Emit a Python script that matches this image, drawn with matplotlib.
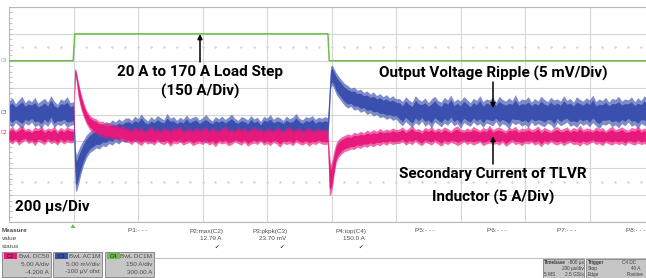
import numpy as np
import matplotlib.pyplot as plt
from matplotlib.patches import Rectangle, Polygon

# ---- scope data (time in us, trigger at 0) ----
t_pre = list(range(-200, 0, 10))
t_step = [0, 3, 6, 9, 15, 22, 31, 40]
t_mid = list(range(50, 790, 10))
t_rel = [788, 793, 797, 802, 808, 815, 822, 830, 840]
t_end = list(range(850, 1810, 10))

# C3: output voltage ripple (mV), upper / lower envelope of the noisy trace
c3_hi = ([2.6, 3.2, 2.1, 2.8, 3.5, 2.3, 2.9, 2.5, 3.3, 2.2, 2.7, 3.1, 2.4, 3.6, 2.6, 2.0, 3.0, 2.7, 3.4, 2.3]
         + [2.5, -1.0, -6.5, -7.4, -6.5, -5.6, -4.6, -3.7]
         + [-3.1, -2.6, -2.3, -1.6, -1.9, -1.2, -1.5, -0.9, -1.3, -0.7, -1.1, -0.6]
         + [-0.5, -1.0, -0.2, -0.7, 0.2, -0.6, -1.1, -0.3, -0.8, -0.1,
            -0.5, -0.9, 0.3, -0.6, -0.3, -1.0, -0.4, -0.8, 0.0, -0.7,
            -0.4, -0.2, -0.9, -0.5, 0.1, -0.6, -1.1, -0.3, -0.7, -0.2,
            -0.8, -0.4, 0.2, -0.6, -1.0, -0.3, -0.5, -0.9, -0.1, -0.7,
            -0.4, -1.2, -0.2, -0.6, 0.1, -0.8, -0.3, -0.5, -1.0, -0.2,
            -0.7, -0.4, 0.3, -0.6, -0.9, -0.3, -0.5, -0.1, -0.8, -0.4,
            -0.6, -0.3]
         + [-0.5, 5.0, 9.0, 9.3, 8.6, 7.8, 7.2, 6.6, 5.9]
         + [5.5, 5.0, 5.2, 4.6, 4.8, 4.2, 4.5, 3.9, 4.3, 3.6, 4.0, 3.4, 3.8, 3.2, 3.6, 3.0]
         + [3.1, 2.5, 3.4, 2.8, 2.4, 3.6, 2.9, 2.6, 3.2, 2.3,
            3.0, 3.5, 2.7, 2.4, 3.3, 2.8, 3.7, 2.5, 3.0, 2.6,
            3.4, 2.9, 2.3, 3.1, 2.7, 3.6, 2.5, 3.0, 2.8, 3.3,
            2.4, 3.5, 2.9, 2.6, 3.2, 2.7, 3.8, 2.5, 3.0, 2.8,
            3.4, 2.4, 3.1, 2.6, 3.5, 2.9, 2.5, 3.3, 2.8, 3.0,
            2.6, 3.6, 2.7, 3.1, 2.4, 3.4, 2.9, 2.6, 3.2, 2.8,
            3.7, 2.5, 3.0, 2.7, 3.3, 2.4, 3.1, 2.9, 3.5, 2.6,
            3.0, 2.8, 3.4, 2.5, 3.2, 2.7, 3.6, 2.9, 2.6, 3.1])
c3_lo = ([-1.7, -2.3, -1.4, -2.0, -2.6, -1.5, -1.9, -1.3, -2.2, -1.8, -2.5, -1.6, -2.1, -1.2, -2.4, -1.7, -2.0, -1.5, -2.3, -1.9]
         + [-1.8, -9.3, -13.9, -14.3, -13.0, -11.2, -9.3, -8.0]
         + [-7.0, -6.6, -6.1, -6.3, -5.7, -5.9, -5.3, -5.6, -5.0, -5.4, -4.8, -5.1]
         + [-4.7, -4.2, -5.0, -4.5, -4.0, -4.9, -4.4, -5.2, -4.3, -4.6,
            -4.9, -4.2, -4.7, -4.0, -4.8, -4.4, -5.1, -4.5, -4.1, -4.9,
            -4.6, -4.2, -4.8, -4.4, -5.3, -4.5, -4.1, -4.7, -4.3, -5.0,
            -4.6, -4.2, -4.9, -4.4, -4.0, -4.8, -4.5, -5.1, -4.3, -4.7,
            -4.2, -4.9, -4.5, -4.1, -4.8, -4.4, -5.0, -4.6, -4.2, -4.7,
            -4.3, -5.1, -4.5, -4.0, -4.8, -4.4, -4.7, -4.2, -4.9, -4.5,
            -4.6, -4.7]
         + [-4.8, -0.5, 5.0, 5.6, 4.9, 3.8, 3.2, 2.6, 1.8]
         + [1.3, 1.6, 0.9, 1.1, 0.5, 0.8, 0.1, 0.4, -0.2, 0.1, -0.5, -0.3, -0.8, -0.5, -1.0, -0.7]
         + [-1.5, -2.0, -1.2, -1.8, -2.3, -1.4, -1.9, -1.1, -2.1, -1.6,
            -2.4, -1.3, -1.7, -2.2, -1.5, -1.9, -1.2, -2.0, -1.6, -2.5,
            -1.4, -1.8, -2.1, -1.3, -1.9, -1.6, -2.3, -1.5, -1.7, -2.0,
            -1.2, -2.2, -1.6, -1.9, -2.6, -1.4, -1.8, -1.5, -2.1, -1.7,
            -2.4, -1.3, -2.0, -1.6, -1.9, -2.2, -1.5, -1.8, -2.5, -1.4,
            -2.0, -1.7, -1.3, -2.1, -1.8, -2.3, -1.5, -1.9, -1.6, -2.2,
            -1.4, -2.0, -2.6, -1.7, -1.9, -1.5, -2.2, -1.8, -2.4, -1.6,
            -2.0, -1.3, -2.1, -1.8, -2.5, -1.6, -1.9, -2.2, -1.7, -2.0])

# C2: secondary current of TLVR inductor (A)
c2_hi = ([1.5, 2.0, 1.3, 1.8, 2.2, 1.4, 1.7, 1.2, 1.9, 1.6, 2.1, 1.3, 1.7, 1.5, 2.0, 1.2, 1.8, 1.4, 1.9, 1.6]
         + [1.5, 12.5, 12.8, 12.1, 10.3, 8.4, 6.5, 5.0]
         + [4.1, 3.6, 3.4, 2.9, 3.0, 2.5, 2.7, 2.2, 2.4, 1.9, 2.2, 1.8]
         + [1.7, 1.3, 2.0, 1.5, 1.8, 1.2, 1.6, 2.1, 1.4, 1.7,
            1.1, 1.9, 1.5, 1.3, 1.8, 1.6, 2.2, 1.2, 1.5, 1.7,
            1.3, 1.9, 1.4, 1.6, 2.0, 1.2, 1.8, 1.5, 1.3, 1.7,
            2.1, 1.4, 1.6, 1.2, 1.9, 1.5, 1.8, 1.3, 1.6, 2.0,
            1.4, 1.7, 1.1, 1.8, 1.5, 1.3, 1.9, 1.6, 1.2, 1.7,
            2.0, 1.4, 1.5, 1.8, 1.2, 1.6, 1.9, 1.3, 1.5, 1.7,
            1.4, 1.5]
         + [1.4, -2.4, -5.2, -4.3, -2.4, -1.0, -0.4, 0.0, 0.3]
         + [0.6, 0.4, 0.9, 0.7, 1.1, 0.8, 1.3, 1.0, 1.4, 1.1, 1.6, 1.2, 1.5, 1.3, 1.7, 1.4]
         + [1.5, 1.9, 1.3, 1.7, 2.2, 1.4, 1.6, 1.2, 1.8, 1.5,
            2.0, 1.3, 1.7, 1.4, 1.9, 1.6, 1.2, 1.8, 2.1, 1.5,
            1.3, 1.7, 1.4, 2.0, 1.6, 1.3, 1.8, 1.5, 2.2, 1.4,
            1.7, 1.9, 1.5, 1.2, 1.8, 1.6, 2.0, 1.3, 1.7, 1.5,
            1.9, 1.4, 1.6, 2.1, 1.3, 1.8, 1.5, 1.2, 1.7, 2.0,
            1.4, 1.6, 1.9, 1.3, 1.8, 1.5, 2.2, 1.4, 1.7, 1.6,
            1.3, 1.9, 1.5, 1.8, 1.2, 1.7, 2.0, 1.4, 1.6, 1.9,
            1.5, 1.3, 1.8, 1.6, 2.1, 1.4, 1.7, 1.5, 1.9, 1.6])
c2_lo = ([-0.9, -1.3, -0.7, -1.5, -1.0, -0.6, -1.2, -0.9, -1.6, -0.8, -1.1, -1.4, -0.7, -1.2, -1.0, -1.5, -0.8, -1.3, -0.9, -1.1]
         + [-1.0, 6.9, 11.5, 10.2, 7.3, 5.4, 3.7, 2.4]
         + [1.4, 0.9, 0.6, 0.2, 0.1, -0.3, -0.1, -0.5, -0.3, -0.7, -0.5, -0.9]
         + [-1.0, -1.4, -0.8, -1.2, -1.6, -0.9, -1.3, -1.1, -1.5, -0.8,
            -1.2, -1.4, -1.0, -1.7, -1.1, -1.3, -0.9, -1.5, -1.2, -1.0,
            -1.6, -1.3, -1.1, -1.4, -0.9, -1.5, -1.2, -1.8, -1.0, -1.3,
            -1.1, -1.6, -1.4, -0.9, -1.2, -1.5, -1.0, -1.7, -1.3, -1.1,
            -1.4, -0.8, -1.5, -1.2, -1.6, -1.0, -1.3, -1.9, -1.1, -1.4,
            -1.2, -1.6, -0.9, -1.3, -1.5, -1.1, -1.7, -1.2, -1.4, -1.0,
            -1.3, -1.4]
         + [-1.3, -10.8, -10.8, -9.5, -7.1, -4.6, -3.8, -3.2, -2.7]
         + [-2.5, -2.2, -2.3, -1.9, -2.1, -1.7, -1.9, -1.5, -1.8, -1.4, -1.6, -1.2, -1.5, -1.1, -1.4, -1.2]
         + [-1.2, -0.9, -1.5, -1.1, -1.4, -0.8, -1.3, -1.6, -1.0, -1.2,
            -1.5, -0.9, -1.3, -1.7, -1.1, -1.4, -1.0, -1.2, -1.6, -1.3,
            -0.9, -1.4, -1.1, -1.5, -1.2, -1.0, -1.6, -1.3, -1.1, -1.4,
            -1.2, -1.5, -1.0, -1.7, -1.3, -0.9, -1.4, -1.2, -1.6, -1.1,
            -1.3, -1.0, -1.5, -1.2, -1.8, -1.1, -1.4, -0.9, -1.3, -1.5,
            -1.1, -1.6, -1.2, -1.0, -1.4, -1.3, -1.7, -1.1, -1.5, -1.2,
            -0.9, -1.4, -1.2, -1.6, -1.0, -1.3, -1.5, -1.1, -1.4, -1.2,
            -1.6, -1.0, -1.3, -1.5, -1.1, -1.4, -1.2, -1.7, -1.0, -1.3])

# C4: load current step (A)
c4_t = [-200, -1, 4, 789, 793, 1800]
c4_i = [0, 0, 150, 150, 0, 0]

# channel settings: screen div = (value + offset) / scale
ch = {
    'C2': dict(scale=5.0, offset=-4.2, color='#e8197d'),
    'C3': dict(scale=5.0, offset=-0.1, color='#3a4fae'),
    'C4': dict(scale=150.0, offset=300.0, color='#6cc04a'),
}

def to_div(name, v):
    c = ch[name]
    return (np.asarray(v, float) + c['offset']) / c['scale']

t_all = np.array(t_pre + t_step + t_mid + t_rel + t_end, float)

W, H = 646, 278
fig = plt.figure(figsize=(W / 100, H / 100), dpi=100)
fig.patch.set_facecolor('white')

ax = fig.add_axes([9 / W, (H - 222) / H, 645 / W, 215 / H])
ax.set_xlim(-200, 1800)
ax.set_ylim(-4, 4)

# graticule
for xv in np.arange(-200, 1801, 200):
    ax.axvline(xv, color='#d6d6d6', lw=0.8, zorder=0)
for yv in range(-4, 5):
    ax.axhline(yv, color='#d6d6d6', lw=0.8, zorder=0)
dots_x = np.arange(-200, 1800, 40)
for yv in (2.5, -2.5):
    ax.plot(dots_x, np.full_like(dots_x, yv, dtype=float), ls='none', marker='s',
            ms=0.7, color='#d2d2d2', zorder=0)
for s in ax.spines.values():
    s.set_color('#b8b8b8')
    s.set_linewidth(0.8)
ax.set_xticks([])
ax.set_yticks(np.arange(-4, 4.01, 0.2))
ax.tick_params(axis='y', direction='in', length=2, width=0.6, color='#b8b8b8',
               labelleft=False)

# traces: light fringe for the noise spikes, solid core
def band(name, hi, lo, z):
    col = ch[name]['color']
    h = to_div(name, hi)
    l = to_div(name, lo)
    ax.fill_between(t_all, l, h, color=col, alpha=0.65, lw=0, zorder=z)
    m = (h + l) / 2
    ax.fill_between(t_all, m - (m - l) * 0.65, m + (h - m) * 0.65, color=col, lw=0, zorder=z)

band('C3', c3_hi, c3_lo, 2)
band('C2', c2_hi, c2_lo, 3)
ax.plot(c4_t, to_div('C4', c4_i), color=ch['C4']['color'], lw=1.1, zorder=4)

# ---- overlay in pixel coordinates ----
ov = fig.add_axes([0, 0, 1, 1])
ov.set_xlim(0, W)
ov.set_ylim(H, 0)
ov.axis('off')
ov.patch.set_alpha(0)

bold = dict(family='Roboto', fontweight='bold', fontsize=11, color='black')
ov.text(200, 72, '20 A to 170 A Load Step', ha='center', va='center', **bold)
ov.text(200, 91, '(150 A/Div)', ha='center', va='center', **bold)
ov.text(493, 73, 'Output Voltage Ripple (5 mV/Div)', ha='center', va='center', **bold)
ov.text(493, 174, 'Secondary Current of TLVR', ha='center', va='center', **bold)
ov.text(493, 197, 'Inductor (5 A/Div)', ha='center', va='center', **bold)
ov.text(15, 207, '200 µs/Div', ha='left', va='center', **bold)

arr = dict(arrowstyle='-|>', color='black', lw=1.1, mutation_scale=7, shrinkA=0, shrinkB=0)
ov.annotate('', xy=(200, 34), xytext=(200, 62), arrowprops=arr)
ov.annotate('', xy=(493, 108), xytext=(493, 82), arrowprops=arr)
ov.annotate('', xy=(493, 136), xytext=(493, 164), arrowprops=arr)

# channel markers on the left edge
small = dict(family='DejaVu Sans', fontsize=3.6)
ov.text(1, 60, 'C4', color=ch['C4']['color'], va='center', **small)
ov.text(1, 112, 'C3', color=ch['C3']['color'], va='center', **small)
ov.text(1, 133, 'C2', color=ch['C2']['color'], va='center', **small)

# trigger marker
ov.add_patch(Polygon([[70.5, 228], [75.5, 228], [73, 224]], closed=True,
                     color=ch['C4']['color'], lw=0))

# measurement table
tiny = dict(family='Liberation Sans', fontsize=4.6, color='#4a4a4a')
ov.text(2, 231, 'Measure', ha='left', va='center', fontweight='bold', **tiny)
ov.text(2, 239, 'value', ha='left', va='center', **tiny)
ov.text(2, 247, 'status', ha='left', va='center', **tiny)
meas_names = ['P1:- - -', 'P2:max(C2)', 'P3:pkpk(C3)', 'P4:top(C4)',
              'P5:- - -', 'P6:- - -', 'P7:- - -', 'P8:- - -']
meas_vals = ['', '12.79 A', '23.70 mV', '150.0 A', '', '', '', '']
name_x = [128, 223, 288, 367, 415, 487, 557, 626]
name_ha = ['left', 'right', 'right', 'right', 'left', 'left', 'left', 'left']
for nm, vl, x, ha in zip(meas_names, meas_vals, name_x, name_ha):
    ov.text(x, 231, nm, ha=ha, va='center', **tiny)
    if vl:
        ov.text(x - 2, 239, vl, ha='right', va='center', **tiny)
        ov.text(x - 6, 247.5, '\u2714', ha='center', va='center',
                family='DejaVu Sans', fontsize=4, color='#444444')
ov.plot([155, W], [258, 258], color='#bdbdbd', lw=0.7)

# channel boxes
boxes = [
    ('C2', ['BwL DC50', '5.00 A/div', '-4.200 A'], 2),
    ('C3', ['BwL AC1M', '5.00 mV/div', '-100 µV ofst'], 53),
    ('C4', ['BwL DC1M', '150 A/div', '300.00 A'], 105),
]
for name, lines, x0 in boxes:
    ov.add_patch(Rectangle((x0, 252), 49, 25, facecolor='#c6c6c6', edgecolor='#8c8c8c', lw=0.7))
    ov.add_patch(Rectangle((x0 + 1.5, 253), 13, 6, facecolor=ch[name]['color'], lw=0))
    ov.text(x0 + 8, 256, name, ha='center', va='center', family='Liberation Sans',
            fontsize=4.2, color='#222222')
    for k, s in enumerate(lines):
        ov.text(x0 + 47, 256 + 8 * k, s, ha='right', va='center', **tiny)

# timebase / trigger boxes
box_txt = dict(family='Liberation Sans', fontsize=3.4, color='#3a3a3a')
ov.add_patch(Rectangle((543, 259), 41, 19, facecolor='#c6c6c6', edgecolor='#8c8c8c', lw=0.7))
ov.add_patch(Rectangle((586, 259), 64, 19, facecolor='#c6c6c6', edgecolor='#8c8c8c', lw=0.7))
ov.text(544, 262.5, 'Timebase', ha='left', va='center', fontweight='bold', **box_txt)
ov.text(583.5, 262.5, '-800 µs', ha='right', va='center', **box_txt)
ov.text(583.5, 268.5, '200 µs/div', ha='right', va='center', **box_txt)
ov.text(544, 274.5, '5 MS', ha='left', va='center', **box_txt)
ov.text(583.5, 274.5, '2.5 GS/s', ha='right', va='center', **box_txt)
ov.text(587.5, 262.5, 'Trigger', ha='left', va='center', fontweight='bold', **box_txt)
ov.text(622, 262.5, 'C4 DC', ha='left', va='center', **box_txt)
ov.text(587.5, 268.5, 'Stop', ha='left', va='center', **box_txt)
ov.text(631, 268.5, '40 A', ha='left', va='center', **box_txt)
ov.text(587.5, 274.5, 'Edge', ha='left', va='center', **box_txt)
ov.text(627, 274.5, 'Positive', ha='left', va='center', **box_txt)

fig.savefig('out.png', dpi=100, facecolor='white')
